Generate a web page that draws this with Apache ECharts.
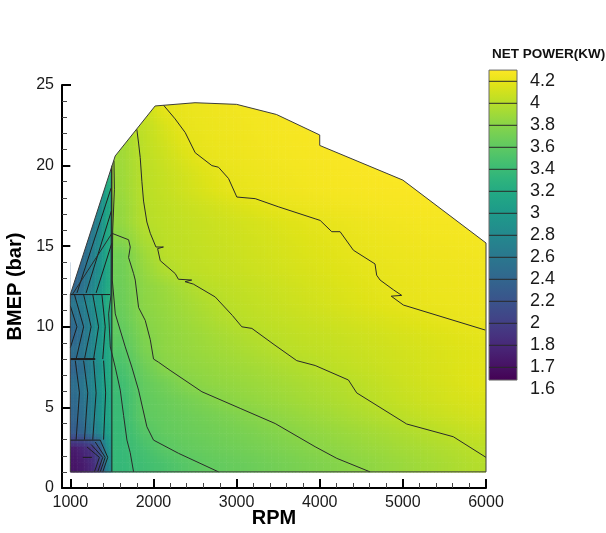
<!DOCTYPE html>
<html>
<head>
<meta charset="utf-8">
<script src="https://cdn.jsdelivr.net/npm/echarts@6/dist/echarts.min.js"></script>
<style>
html,body{margin:0;padding:0;background:#ffffff;}
#chart{width:606px;height:533px;}
</style>
</head>
<body>
<div id="chart"></div>
<script>
// ---------------- data ----------------
// cell edges of the net-power table
const rpmEdges  = [1000,1100,1200,1300,1400,1500,1750,2000,2250,2500,2750,3000,3250,3500,3750,4000,4250,4500,4750,5000,5250,5500,5750,6000];
const bmepEdges = [1,2,3,4,5,6,7,8,9,10,11,12,13,14,15,16,17,18,19,20,21,22,23,24];
// the low-speed strip (first 5 RPM bands) is a separate measured zone
const stripBandCount = 5;

// net power (kW) per cell, one row per BMEP band (bottom -> top), one value per RPM band
const netPowerRows = [
 [1.72,1.75,1.8,2.0,2.8, 3.36,3.43,3.49,3.555,3.61,3.636,3.66,3.69,3.72,3.75,3.775,3.803,3.832,3.86,3.89,3.92,3.95,3.98],
 [1.75,1.8,1.9,2.2,2.9, 3.37,3.47,3.57,3.62,3.648,3.677,3.705,3.734,3.762,3.79,3.818,3.845,3.872,3.9,3.927,3.954,3.981,4.01],
 [2.3,2.4,2.6,2.8,3.1, 3.38,3.54,3.62,3.65,3.68,3.71,3.74,3.77,3.80,3.828,3.857,3.886,3.914,3.942,3.971,4.0,4.03,4.06],
 [2.4,2.5,2.7,2.9,3.15, 3.39,3.6,3.636,3.672,3.709,3.745,3.782,3.815,3.846,3.877,3.907,3.938,3.969,4.0,4.03,4.06,4.085,4.11],
 [2.45,2.55,2.7,2.9,3.15, 3.4,3.607,3.659,3.71,3.762,3.807,3.836,3.865,3.893,3.922,3.95,3.979,4.01,4.04,4.07,4.095,4.12,4.14],
 [2.5,2.6,2.75,2.95,3.2, 3.43,3.62,3.70,3.78,3.82,3.845,3.87,3.896,3.922,3.948,3.974,4.0,4.03,4.06,4.09,4.115,4.14,4.165],
 [2.4,2.5,2.7,2.9,3.2, 3.485,3.666,3.79,3.824,3.85,3.878,3.905,3.932,3.96,3.986,4.015,4.04,4.06,4.085,4.105,4.13,4.15,4.17],
 [2.5,2.6,2.75,2.95,3.2, 3.54,3.73,3.818,3.85,3.88,3.91,3.943,3.974,4.005,4.022,4.04,4.06,4.08,4.097,4.116,4.135,4.153,4.17],
 [2.4,2.55,2.75,2.95,3.2, 3.6,3.757,3.827,3.864,3.9,3.937,3.974,4.005,4.024,4.042,4.06,4.078,4.096,4.115,4.133,4.151,4.169,4.187],
 [2.5,2.6,2.75,2.95,3.2, 3.64,3.79,3.843,3.889,3.935,3.98,4.011,4.031,4.05,4.07,4.09,4.11,4.129,4.149,4.168,4.188,4.205,4.215],
 [2.6,2.7,2.85,3.0,3.25, 3.665,3.811,3.862,3.913,3.964,4.007,4.03,4.053,4.076,4.099,4.122,4.144,4.167,4.19,4.205,4.215,4.222,4.228],
 [2.4,2.55,2.75,2.95,3.2, 3.676,3.814,3.878,3.942,4.002,4.024,4.046,4.068,4.09,4.113,4.135,4.157,4.179,4.201,4.21,4.22,4.228,4.235],
 [2.35,2.5,2.7,2.9,3.2, 3.69,3.847,3.958,4.013,4.033,4.053,4.074,4.094,4.115,4.135,4.156,4.176,4.196,4.21,4.22,4.228,4.235,4.242],
 [null,2.45,2.65,2.9,3.2, 3.70,3.88,4.004,4.025,4.045,4.066,4.087,4.108,4.129,4.15,4.17,4.191,4.21,4.22,4.23,4.238,4.245,4.25],
 [null,2.4,2.6,2.85,3.2, 3.79,3.94,4.013,4.034,4.056,4.077,4.099,4.12,4.142,4.163,4.185,4.205,4.22,4.232,4.242,4.25,4.255,4.26],
 [null,null,2.55,2.8,3.2, 3.847,3.986,4.021,4.045,4.068,4.092,4.115,4.138,4.162,4.185,4.205,4.22,4.235,4.247,4.256,4.262,4.266,4.27],
 [null,null,null,2.8,3.15, 3.854,3.994,4.03,4.062,4.093,4.125,4.156,4.188,4.21,4.225,4.238,4.25,4.26,4.268,4.274,4.278,4.28,null],
 [null,null,null,2.8,3.2, 3.88,4.0,4.047,4.094,4.14,4.186,4.21,4.225,4.24,4.252,4.262,4.27,4.277,4.282,4.286,4.288,null,null],
 [null,null,null,null,3.3, 3.89,4.003,4.055,4.107,4.16,4.205,4.22,4.235,4.248,4.26,4.27,4.278,4.284,4.288,4.29,null,null,null],
 [null,null,null,null,null, 3.9,4.01,4.076,4.143,4.203,4.22,4.235,4.248,4.26,4.27,4.278,4.285,4.29,null,null,null,null,null],
 [null,null,null,null,null, 3.91,4.018,4.1,4.182,4.213,4.228,4.242,4.255,4.266,4.275,4.282,null,null,null,null,null,null,null],
 [null,null,null,null,null, null,4.03,4.13,4.206,4.22,4.235,4.248,4.26,4.27,4.278,null,null,null,null,null,null,null,null],
 [null,null,null,null,null, null,4.05,4.19,4.215,4.23,4.245,4.255,4.265,4.272,null,null,null,null,null,null,null,null,null]
];

// outline of the measured domain [rpm, bmep]
const domainOutline = [[1000,1],[1000,12],[1540,20.6],[2020,23.7],[2500,23.9],[3000,23.8],[3480,23.17],[4000,21.9],[4000,21.25],[5000,19.1],[6000,15.2],[6000,1],[1000,1]];

// contour lines of the main map [rpm, bmep]
const contour34 = [[1761,1],[1720,2.2],[1681,2.97],[1641,4.5],[1601,6.07],[1540,7.5],[1481,8.75],[1461,10.8],[1490,12],[1495,19.9]];
const contour36 = [[2783,1],[2302,2.15],[2001,2.97],[1921,3.8],[1821,6.07],[1740,7.5],[1661,8.75],[1541,10.8],[1505,12.9],[1510,16],[1530,18.5],[1525,20.3]];
const contour38 = [[4606,1],[4205,1.84],[3945,2.56],[3464,4.0],[3043,4.94],[2583,5.97],[2200,7.3],[2062,7.8],[2001,8.0],[1962,9.2],[1901,10.4],[1821,11.2],[1781,12.9],[1761,13.3],[1701,14.3],[1721,14.95],[1701,15.4],[1501,15.8],[1024,12]];
const contour40 = [[1800,22.25],[1821,21.4],[1841,20.5],[1861,19],[1881,17.8],[1921,16.5],[1962,15.8],[2030,14.95],[2120,14.95],[2050,14.85],[2082,14.1],[2262,13.3],[2300,12.95],[2460,12.9],[2380,12.8],[2480,12.65],[2743,11.85],[2950,10.7],[3063,10.0],[3184,9.9],[3450,8.9],[3724,7.9],[3945,7.6],[4345,6.7],[4445,5.9],[5046,3.97],[5607,3.18],[6000,1.9]];
const contour42 = [[2121,23.75],[2260,22.9],[2382,22.05],[2502,20.8],[2703,20.0],[2782,19.9],[2903,19.2],[3003,18.05],[3224,17.95],[3500,17.45],[3945,16.7],[4005,16.6],[4145,15.9],[4245,15.9],[4405,14.75],[4665,13.9],[4685,13.2],[4726,12.9],[4885,12.3],[4986,11.95],[4860,11.9],[5006,11.35],[5990,9.8]];

// contour lines of the low-speed strip (1000-1500 rpm)
const stripContours = [
 [[1000,2.97],[1360,2.97],[1450,1.9],[1390,1]],
 [[1300,2.85],[1420,1.9],[1360,1]],
 [[1250,2.7],[1390,1.9],[1330,1]],
 [[1200,2.55],[1350,1.9],[1290,1]],
 [[1150,1.9],[1260,1.9]],
 [[1070,3],[1110,5.9],[1060,7.9]],
 [[1170,3],[1210,5.9],[1160,7.9]],
 [[1270,3],[1310,5.9],[1280,7.9]],
 [[1400,3],[1425,5.9],[1400,7.9]],
 [[1000,8],[1300,8]],
 [[1000,11.3],[1080,10],[1000,8.7]],
 [[1050,12],[1160,10],[1070,8]],
 [[1160,12],[1250,10],[1170,8]],
 [[1270,12],[1340,10],[1280,8]],
 [[1380,12],[1420,10],[1390,8]],
 [[1000,12],[1480,12]],
 [[1080,12.1],[1490,18.6]],
 [[1190,12.1],[1495,17.2]],
 [[1310,12.1],[1500,15.2]],
 [[1500,1],[1500,20]]
];

// colour-bar levels
const levelValues = [1.6,1.7,1.8,2.0,2.2,2.4,2.6,2.8,3.0,3.2,3.4,3.6,3.8,4.0,4.2];

// axis ticks
const rpmMajorTicks = [1000,2000,3000,4000,5000,6000];
const rpmMinorTicks = [1200,1400,1600,1800,2200,2400,2600,2800,3200,3400,3600,3800,4200,4400,4600,4800,5200,5400,5600,5800];

// ---------------- colour handling ----------------
const VIRIDIS = ['#440154','#471365','#482475','#463480','#414487','#3b528b','#355f8d','#2f6c8e','#2a788e','#25848e','#21918c','#1e9c89','#22a884','#2fb47c','#44bf70','#5ec962','#7ad151','#9bd93c','#bddf26','#dfe318','#fde725'];
const CB_BOT_K = 0.42, CB_TOP_K = 14.51;
function hexToRgb(h){return [parseInt(h.substr(1,2),16),parseInt(h.substr(3,2),16),parseInt(h.substr(5,2),16)];}
const VIR_RGB = VIRIDIS.map(hexToRgb);
function levelIndex(v){
  const L = levelValues;
  if (v <= L[0]) return (v - L[0]) / 0.1;
  for (let i = 0; i < L.length - 1; i++) {
    if (v <= L[i+1]) return i + (v - L[i]) / (L[i+1] - L[i]);
  }
  return (L.length - 1) + (v - L[L.length-1]) / 0.2;
}
function viridis(t){
  t = Math.max(0, Math.min(1, t));
  const f = t * (VIR_RGB.length - 1);
  const i = Math.min(VIR_RGB.length - 2, Math.floor(f));
  const a = f - i, c0 = VIR_RGB[i], c1 = VIR_RGB[i+1];
  const r = Math.round(c0[0] + (c1[0]-c0[0])*a), g = Math.round(c0[1] + (c1[1]-c0[1])*a), b = Math.round(c0[2] + (c1[2]-c0[2])*a);
  return 'rgb(' + r + ',' + g + ',' + b + ')';
}
function powerColor(v){ return viridis((levelIndex(v) - CB_BOT_K) / (CB_TOP_K - CB_BOT_K)); }

// ---------------- flood shading (Gouraud-like, between cell centres of the same zone) ----------------
const rpmCentres  = rpmEdges.slice(0, -1).map(function(e, i){return (e + rpmEdges[i+1]) / 2;});
const bmepCentres = bmepEdges.slice(0, -1).map(function(e, i){return (e + bmepEdges[i+1]) / 2;});
function bracket(centres, x, lo, hi){
  if (x <= centres[lo]) return [lo, lo, 0];
  if (x >= centres[hi]) return [hi, hi, 0];
  for (let i = lo; i < hi; i++) {
    if (x <= centres[i+1]) return [i, i+1, (x - centres[i]) / (centres[i+1] - centres[i])];
  }
  return [hi, hi, 0];
}
function shadeAt(x, y, ownValue, ci){
  const inStrip = ci < stripBandCount;
  const cx = inStrip ? bracket(rpmCentres, x, 0, stripBandCount - 1) : bracket(rpmCentres, x, stripBandCount, rpmCentres.length - 1);
  const cy = bracket(bmepCentres, y, 0, bmepCentres.length - 1);
  function val(r, c){ const v = netPowerRows[r][c]; return (v === null || v === undefined) ? ownValue : v; }
  const v00 = val(cy[0], cx[0]), v01 = val(cy[0], cx[1]), v10 = val(cy[1], cx[0]), v11 = val(cy[1], cx[1]);
  const a = cx[2], b = cy[2];
  return (v00*(1-a) + v01*a) * (1-b) + (v10*(1-a) + v11*a) * b;
}

// ---------------- build series data ----------------
const cellData = [];
netPowerRows.forEach(function(row, ri){
  row.forEach(function(v, ci){
    if (v === null || v === undefined) return;
    cellData.push([rpmEdges[ci], rpmEdges[ci+1], bmepEdges[ri], bmepEdges[ri+1], v, ci]);
  });
});

// white mask above the domain outline (top edge of the outline + top of the table)
const topEdge = domainOutline.slice(1, 11);
const tableTop = bmepEdges[bmepEdges.length-1] + 0.3;
const maskPolygon = topEdge.concat([[6020, 15.2],[6020, tableTop],[1000, tableTop]]);

const FONT = 'Liberation Sans, Arial, sans-serif';
const chart = echarts.init(document.getElementById('chart'), null, {renderer:'canvas'});

function lineSeries(pts, width, color){
  return {type:'line', xAxisIndex:0, yAxisIndex:0, data:pts, symbol:'none', showSymbol:false, silent:true, animation:false,
          lineStyle:{color:color || '#262626', width:width || 1}, z:5};
}

const SUB_X = 6, SUB_Y = 5;
const series = [
  {
    type:'custom', xAxisIndex:0, yAxisIndex:0, data:cellData, silent:true, animation:false, z:2, clip:true,
    encode:{x:[0,1], y:[2,3]},
    renderItem:function(params, api){
      const x0 = api.value(0), x1 = api.value(1), y0 = api.value(2), y1 = api.value(3), v = api.value(4), ci = api.value(5);
      const children = [];
      for (let i = 0; i < SUB_X; i++) {
        for (let j = 0; j < SUB_Y; j++) {
          const sx0 = x0 + (x1 - x0) * i / SUB_X, sx1 = x0 + (x1 - x0) * (i + 1) / SUB_X;
          const sy0 = y0 + (y1 - y0) * j / SUB_Y, sy1 = y0 + (y1 - y0) * (j + 1) / SUB_Y;
          const p0 = api.coord([sx0, sy1]), p1 = api.coord([sx1, sy0]);
          const sv = shadeAt((sx0 + sx1) / 2, (sy0 + sy1) / 2, v, ci);
          children.push({type:'rect', shape:{x:p0[0], y:p0[1], width:p1[0]-p0[0]+0.6, height:p1[1]-p0[1]+0.6},
                         style:{fill:powerColor(sv)}});
        }
      }
      return {type:'group', children:children};
    }
  },
  {
    type:'custom', xAxisIndex:0, yAxisIndex:0, data:[[1000,12]], silent:true, animation:false, z:3,
    renderItem:function(params, api){
      const pts = maskPolygon.map(function(p){return api.coord(p);});
      return {type:'polygon', shape:{points:pts}, style:{fill:'#ffffff'}};
    }
  }
];
stripContours.forEach(function(c, i){ series.push(lineSeries(c, i === 9 ? 2 : 1, '#1e1e1e')); });
[contour34, contour36, contour38, contour40, contour42].forEach(function(c){ series.push(lineSeries(c, 1, '#2a2a2a')); });
series.push(Object.assign(lineSeries(domainOutline, 1, '#3c3c3c'), {z:6}));

// colour bar
const cbGradient = new echarts.graphic.LinearGradient(0, 1, 0, 0, VIRIDIS.map(function(c, i){return {offset:i/(VIRIDIS.length-1), color:c};}));
series.push({
  type:'custom', xAxisIndex:2, yAxisIndex:1, data:[[0, CB_BOT_K, 1, CB_TOP_K]], silent:true, animation:false, z:2,
  renderItem:function(params, api){
    const p0 = api.coord([0, CB_TOP_K]);
    const p1 = api.coord([1, CB_BOT_K]);
    return {type:'rect', shape:{x:p0[0], y:p0[1], width:p1[0]-p0[0], height:p1[1]-p0[1]},
            style:{fill:cbGradient, stroke:'#6a6a6a', lineWidth:1}};
  }
});
series.push({
  type:'custom', xAxisIndex:2, yAxisIndex:1, silent:true, animation:false, z:3,
  data:levelValues.map(function(v, i){return [i];}).filter(function(d){return d[0] >= 1;}),
  renderItem:function(params, api){
    const a = api.coord([0, api.value(0)]);
    const b = api.coord([1, api.value(0)]);
    return {type:'line', shape:{x1:a[0], y1:a[1], x2:b[0], y2:b[1]}, style:{stroke:'#2a2a2a', lineWidth:1}};
  }
});

const option = {
  animation:false,
  backgroundColor:'#ffffff',
  title:{text:'NET POWER(KW)', left:487, top:42, textStyle:{fontFamily:FONT, fontSize:13.5, fontWeight:'bold', color:'#111'}},
  grid:[
    {left:62, top:85, width:424, height:403, outerBoundsMode:'none', containLabel:false},
    {left:489, top:59.3, width:28, height:352, outerBoundsMode:'none', containLabel:false}
  ],
  xAxis:[
    {type:'value', gridIndex:0, min:900, max:6000, position:'bottom',
     axisLine:{show:true, lineStyle:{color:'#000', width:2}},
     axisTick:{show:true, inside:true, length:9, customValues:rpmMajorTicks, lineStyle:{color:'#000', width:2}},
     axisLabel:{customValues:rpmMajorTicks, fontFamily:FONT, fontSize:16, color:'#1a1a1a', margin:7,
                formatter:function(v){return String(v);}},
     splitLine:{show:false},
     name:'RPM', nameLocation:'middle', nameGap:20, nameMoveOverlap:false,
     nameTextStyle:{fontFamily:FONT, fontSize:20, fontWeight:'bold', color:'#000'}},
    {type:'value', gridIndex:0, min:900, max:6000, position:'bottom',
     axisLine:{show:false},
     axisTick:{show:true, inside:true, length:5, customValues:rpmMinorTicks, lineStyle:{color:'#444', width:1}},
     axisLabel:{show:false}, splitLine:{show:false}},
    {type:'value', gridIndex:1, min:0, max:1, show:false}
  ],
  yAxis:[
    {type:'value', gridIndex:0, min:0, max:25, interval:5, position:'left',
     axisLine:{show:true, lineStyle:{color:'#000', width:2}},
     axisTick:{show:true, inside:true, length:9, lineStyle:{color:'#000', width:2}},
     minorTick:{show:true, splitNumber:5, length:5, lineStyle:{color:'#444', width:1}},
     axisLabel:{fontFamily:FONT, fontSize:16, color:'#1a1a1a', margin:8},
     splitLine:{show:false}, minorSplitLine:{show:false},
     name:'BMEP (bar)', nameLocation:'middle', nameGap:35,
     nameTextStyle:{fontFamily:FONT, fontSize:20, fontWeight:'bold', color:'#000'}},
    {type:'value', gridIndex:1, min:-1, max:15, interval:1, position:'right',
     axisLine:{show:false}, axisTick:{show:false}, splitLine:{show:false},
     axisLabel:{fontFamily:FONT, fontSize:18, color:'#1a1a1a', margin:13, padding:[11,0,0,0],
       formatter:function(v){ const i = Math.round(v); return (i >= 0 && i < levelValues.length) ? String(levelValues[i]) : ''; }}}
  ],
  series:series
};
chart.setOption(option);
</script>
</body>
</html>
